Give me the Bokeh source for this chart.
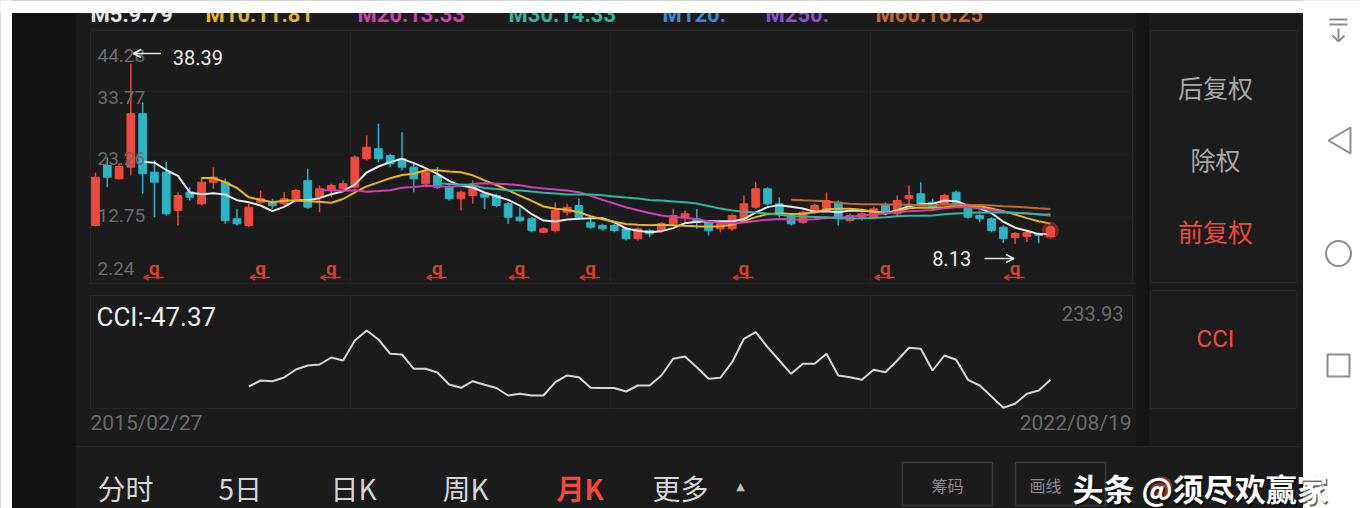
import numpy as np
import pandas as pd
from bokeh.plotting import figure
from bokeh.models import Range1d, Arrow, OpenHead, ColumnDataSource
from bokeh.core.properties import value
from bokeh.embed import file_html
from bokeh.resources import INLINE

# ---------------- data (monthly K, 前复权) ----------------
opens = [11.24, 21.31, 19.08, 21.03, 30.00, 20.19, 20.19, 13.75, 16.83, 14.88,
         18.51, 18.51, 12.36, 11.24, 15.15, 15.15, 14.88, 15.72, 18.79, 15.99,
         17.11, 17.40, 17.67, 22.44, 24.12, 23.00, 22.44, 21.03, 18.24, 19.63,
         17.67, 15.72, 16.27, 16.56, 16.27, 14.88, 12.63, 12.36, 10.11, 10.40,
         13.47, 14.59, 11.79, 11.24, 11.24, 10.68, 9.00, 10.40, 10.40, 11.52,
         12.63, 12.36, 11.79, 10.68, 10.68, 12.36, 14.31, 17.40, 14.88, 12.92,
         11.79, 13.47, 13.75, 15.15, 12.07, 12.63, 12.63, 14.59, 13.20, 15.72,
         16.56, 15.15, 14.88, 16.83, 14.31, 12.92, 12.36, 10.95, 9.22, 9.39,
         9.89, 9.39]
highs = [20.14, 22.71, 21.65, 38.39, 31.94, 22.15, 21.87, 16.83, 17.67, 19.35,
         21.03, 19.08, 14.04, 14.88, 17.11, 15.72, 16.83, 17.40, 20.76, 17.95,
         18.24, 18.79, 23.00, 26.35, 28.31, 23.28, 26.90, 21.60, 20.76, 21.03,
         18.24, 17.11, 18.79, 16.83, 16.56, 15.15, 14.31, 12.63, 10.95, 15.15,
         14.88, 15.72, 12.36, 11.52, 11.52, 10.95, 10.95, 10.68, 11.79, 14.04,
         13.75, 14.04, 12.07, 12.07, 13.20, 16.27, 18.51, 17.67, 15.99, 13.20,
         13.75, 14.88, 16.83, 15.43, 13.20, 13.75, 14.31, 15.15, 16.27, 17.95,
         18.51, 15.72, 16.56, 17.11, 14.88, 13.20, 12.63, 11.24, 10.11, 10.30,
         10.06, 10.60]
lows = [11.07, 17.67, 18.96, 19.63, 16.56, 12.63, 12.92, 11.24, 15.43, 14.59,
        17.40, 11.52, 11.24, 10.95, 14.88, 14.04, 14.59, 15.43, 14.04, 13.47,
        15.99, 16.83, 17.40, 22.15, 21.87, 21.03, 20.47, 16.83, 17.95, 17.40,
        15.43, 13.75, 14.88, 14.04, 14.31, 11.52, 11.79, 10.11, 10.01, 10.11,
        12.92, 12.36, 10.68, 10.40, 10.11, 8.72, 8.72, 9.27, 10.11, 11.24,
        11.79, 10.68, 9.56, 10.11, 10.40, 12.07, 14.04, 14.59, 12.63, 11.24,
        11.52, 13.20, 13.47, 11.24, 11.79, 12.07, 12.36, 12.92, 12.92, 14.88,
        14.59, 13.75, 14.59, 14.59, 12.36, 11.79, 10.11, 8.30, 8.13, 8.46,
        8.25, 9.20]
closes = [19.35, 19.35, 21.14, 30.00, 19.92, 18.51, 13.20, 16.27, 15.99, 18.51,
          19.35, 12.07, 11.52, 14.31, 15.72, 14.59, 15.72, 17.11, 14.31, 17.40,
          17.95, 18.24, 22.71, 24.38, 22.44, 21.60, 21.03, 19.08, 20.19, 17.67,
          15.72, 16.83, 17.67, 15.99, 14.59, 12.63, 12.07, 10.40, 10.68, 13.75,
          14.31, 12.63, 10.95, 10.68, 10.40, 9.00, 10.68, 9.84, 11.52, 12.92,
          13.20, 11.79, 10.40, 11.52, 12.92, 14.88, 17.40, 14.88, 13.20, 11.52,
          13.47, 14.59, 15.43, 12.36, 12.92, 13.20, 14.04, 13.47, 15.43, 16.27,
          14.88, 14.31, 16.27, 14.88, 12.63, 12.36, 10.40, 9.05, 9.89, 10.06,
          9.56, 10.40]
cci_first_index = 13
cci_values = [-85.6, -51.4, -55.4, -34.2, 11.4, 34.2, 39.9, 79.9, 62.7, 176.9,
              233.93, 182.6, 101.0, 97.0, 15.4, 15.4, -5.7, -74.2, -93.0, -55.4,
              -75.9, -94.2, -136.9, -127.3, -136.9, -136.9, -61.1, -22.8, -32.5, -93.0,
              -94.2, -94.2, -114.1, -79.9, -79.9, -22.8, 72.5, 85.6, 24.5, -41.7,
              -35.7, 53.1, 186.6, 224.2, 138.6, 62.7, -13.1, 43.9, 43.9, 101.0,
              -22.8, -32.5, -47.4, 9.7, -4.0, 62.7, 135.2, 129.5, 5.7, 91.3,
              66.8, -47.4, -79.9, -142.7, -207.1, -184.3, -127.3, -108.4, -47.37]
dividend_index = [5, 14, 20, 29, 36, 42, 55, 67, 78]
price_tick_labels = ["44.28", "33.77", "23.26", "12.75", "2.24"]
ma_periods = [5, 10, 20, 30, 60]
ma_colors = ["#e6e6e6", "#e8b422", "#cf3fb4", "#2cb7a0", "#c2692c"]
title_labels = ["M5:9.79", "M10:11.81", "M20:13.33", "M30:14.33", "M120:", "M250:", "M60:16.25"]
title_colors = ["#e6e6e6", "#e8b422", "#cf3fb4", "#2cb7a0", "#3f86d8", "#8a4fcf", "#c2692c"]
date_first = "2015/02/27"
date_last = "2022/08/19"
side_labels = ["后复权", "除权", "前复权"]
indicator_label = "CCI"
tab_labels = ["分时", "5日", "日K", "周K", "月K", "更多"]
button_labels = ["筹码", "画线"]
watermark = "头条 @须尽欢赢家"

# ---------------- layout constants (screen pixels of the page) ----------------
FIG_W, FIG_H = 1360, 508
LEFT, TOP = 0, 0
RIGHT, BOTTOM = LEFT + FIG_W, TOP + FIG_H
CANDLE_X0, CANDLE_STEP = 95.0, 11.79
HIGH_Y, LOW_Y = 63.3, 243.5          # screen y of highest high / lowest low
CCI_MAX_Y, CCI_LAST_Y = 330.0, 379.3  # screen y of max CCI / last CCI

RED = "#f0483c"
CYAN = "#2ab4c4"
GREY = "#6a6a6a"
CJK = value("Noto Sans CJK SC")
NUM = value("Roboto")

n = len(closes)
idx = np.arange(n)

def linear_range(ya, va, yb, vb):
    slope = (vb - va) / (yb - ya)
    f = lambda y: va + (y - ya) * slope
    return Range1d(start=f(BOTTOM), end=f(TOP))

hi_i = int(np.argmax(highs))
lo_i = int(np.argmin(lows))

p = figure(width=FIG_W, height=FIG_H, output_backend="svg", toolbar_location=None,
           x_range=Range1d(LEFT, RIGHT), y_range=Range1d(BOTTOM, TOP),
           x_axis_type=None, y_axis_type=None, min_border=0, title=None,
           background_fill_color="#1b1b1b", border_fill_color="#1b1b1b",
           outline_line_color=None)
p.grid.visible = False
p.extra_x_ranges = {"idx": Range1d(start=(LEFT - CANDLE_X0) / CANDLE_STEP,
                                   end=(RIGHT - CANDLE_X0) / CANDLE_STEP)}
p.extra_y_ranges = {"price": linear_range(HIGH_Y, max(highs), LOW_Y, min(lows)),
                    "cci": linear_range(CCI_MAX_Y, max(cci_values), CCI_LAST_Y, cci_values[-1])}

# ---------------- backgrounds / frames ----------------
p.quad(left=[11], right=[75], top=[12], bottom=[BOTTOM], color="#131313")
p.quad(left=[1136], right=[1148], top=[12], bottom=[446], color="#151515")
p.quad(left=[1150, 1150], right=[1296, 1296], top=[30, 290], bottom=[282, 408],
       fill_color="#1c1c1c", line_color="#292929", line_width=1)
p.quad(left=[90, 90], right=[1132, 1132], top=[30, 295], bottom=[283, 408],
       fill_color=None, line_color="#262626", line_width=1)
p.segment(x0=[350, 610, 870, 350, 610, 870], x1=[350, 610, 870, 350, 610, 870],
          y0=[30, 30, 30, 295, 295, 295], y1=[283, 283, 283, 408, 408, 408],
          line_color="#232323", line_width=1)
tick_vals = [float(t) for t in price_tick_labels]
p.segment(x0=[90] * len(tick_vals), x1=[1132] * len(tick_vals), y0=tick_vals, y1=tick_vals,
          y_range_name="price", line_color="#222222", line_width=1)
p.segment(x0=[75], x1=[1302], y0=[446], y1=[446], line_color="#272727", line_width=1)

# ---------------- candles ----------------
o = np.array(opens); c = np.array(closes)
up = c >= o
src = ColumnDataSource(dict(
    i=idx, high=highs, low=lows,
    top=np.maximum(o, c), bot=np.minimum(o, c),
    color=[RED if u else CYAN for u in up]))
p.segment(x0="i", y0="low", x1="i", y1="high", line_color="color", line_width=1.5,
          source=src, x_range_name="idx", y_range_name="price")
p.vbar(x="i", width=0.66, top="top", bottom="bot", fill_color="color", line_color="color",
       line_width=1, source=src, x_range_name="idx", y_range_name="price")

# moving averages
cs = pd.Series(closes)
for period, col in zip(ma_periods, ma_colors):
    ma = cs.rolling(period).mean().values
    p.line(idx, ma, line_color=col, line_width=2, x_range_name="idx", y_range_name="price")

# last price glow
p.scatter([n - 1], [closes[-1]], size=16, color=RED, alpha=0.35,
          x_range_name="idx", y_range_name="price")
p.scatter([n - 1], [closes[-1]], size=9, color=RED,
          x_range_name="idx", y_range_name="price")

# CCI
cci_x = np.arange(cci_first_index, cci_first_index + len(cci_values))
p.line(cci_x, cci_values, line_color="#d6d6d6", line_width=2,
       x_range_name="idx", y_range_name="cci")

# dividend markers
p.text(x=dividend_index, y=[268] * len(dividend_index), text=["q"] * len(dividend_index),
       x_range_name="idx", text_align="center", text_baseline="alphabetic",
       text_color="#d8402f", text_font=NUM, text_font_size=value("19px"),
       text_font_style="bold")
for d in dividend_index:
    p.add_layout(Arrow(x_start=d + 0.8, y_start=277, x_end=d - 0.9, y_end=277,
                       x_range_name="idx", line_color="#c93a2c", line_width=1.5,
                       end=OpenHead(size=5, line_color="#c93a2c", line_width=1.5)))

# price axis labels
p.text(x=[97] * 5, y=[55, 97, 158, 215, 268], text=price_tick_labels,
       text_align="left", text_baseline="middle", text_color=GREY,
       text_font=NUM, text_font_size=value("19px"))

# high / low annotations
p.add_layout(Arrow(x_start=hi_i + 2.55, y_start=53, x_end=hi_i + 0.2, y_end=53,
                   x_range_name="idx", line_color="#e6e6e6", line_width=1.5,
                   end=OpenHead(size=8, line_color="#e6e6e6", line_width=1.5)))
p.text(x=[hi_i], y=[57], text=[f"{max(highs):.2f}"], x_range_name="idx", x_offset=42,
       text_align="left", text_baseline="middle", text_color="#eeeeee",
       text_font=NUM, text_font_size=value("20px"))
p.add_layout(Arrow(x_start=lo_i - 2.6, y_start=258, x_end=lo_i - 0.1, y_end=258,
                   x_range_name="idx", line_color="#e6e6e6", line_width=1.5,
                   end=OpenHead(size=8, line_color="#e6e6e6", line_width=1.5)))
p.text(x=[lo_i], y=[258], text=[f"{min(lows):.2f}"], x_range_name="idx", x_offset=-44,
       text_align="right", text_baseline="middle", text_color="#eeeeee",
       text_font=NUM, text_font_size=value("20px"))

# CCI texts
p.text(x=[96], y=[316], text=[f"{indicator_label}:{cci_values[-1]:.2f}"],
       text_align="left", text_baseline="middle", text_color="#eeeeee",
       text_font=NUM, text_font_size=value("26px"))
p.text(x=[1123], y=[313], text=[f"{max(cci_values):.2f}"],
       text_align="right", text_baseline="middle", text_color=GREY,
       text_font=NUM, text_font_size=value("20px"))
p.text(x=[90, 1131], y=[422, 422], text=[date_first, date_last],
       text_align=["left", "right"], text_baseline="middle", text_color=GREY,
       text_font=NUM, text_font_size=value("21px"))

# MA title row (its upper half is cut off by the screenshot edge)
title_x = [90, 205, 357, 508, 662, 765, 875]
p.text(x=title_x, y=[14] * len(title_labels), text=title_labels, text_color=title_colors,
       text_align="left", text_baseline="alphabetic", text_font=NUM,
       text_font_size=value("22px"), text_font_style="bold")

# side panel
p.text(x=[1215, 1215, 1215], y=[86, 158, 230], text=side_labels,
       text_color=["#a8a8a8", "#a8a8a8", RED], text_align="center", text_baseline="middle",
       text_font=CJK, text_font_size=value("25px"))
p.text(x=[1215], y=[338], text=[indicator_label], text_color=RED, text_align="center",
       text_baseline="middle", text_font=NUM, text_font_size=value("24px"))

# bottom tabs
tab_x = [97, 218, 330, 442, 556, 652]
p.text(x=tab_x, y=[487] * len(tab_labels), text=tab_labels,
       text_color=["#d6d6d6"] * 4 + [RED, "#d6d6d6"], text_align="left",
       text_baseline="middle", text_font=CJK, text_font_size=value("28px"),
       text_font_style=["normal"] * 4 + ["bold", "normal"])
p.text(x=[740], y=[486], text=["▲"], text_color="#bdbdbd", text_align="center",
       text_baseline="middle", text_font=value("DejaVu Sans"), text_font_size=value("11px"))
p.quad(left=[902, 1015], right=[992, 1105], top=[462, 462], bottom=[505, 505],
       fill_color=None, line_color="#3a3a3a", line_width=1.5)
p.text(x=[947, 1045], y=[484, 484], text=button_labels, text_color="#8a8a8a",
       text_align="center", text_baseline="middle", text_font=CJK,
       text_font_size=value("16px"))

# white screenshot borders and navigation bar
p.quad(left=[LEFT, LEFT, 1303], right=[11, RIGHT, RIGHT], top=[TOP, TOP, TOP],
       bottom=[BOTTOM, 12, BOTTOM], color="#ffffff")
NAV = "#8c8c8c"
p.segment(x0=[1329, 1329, 1338, 1332, 1338], x1=[1347, 1347, 1338, 1338, 1344],
          y0=[19, 24, 28, 35, 41], y1=[19, 24, 41, 41, 35], line_color=NAV, line_width=2)
p.patch(x=[1328, 1350, 1350], y=[140, 127, 153], fill_color=None, line_color=NAV, line_width=2)
p.scatter([1338], [253], marker="circle", size=25, fill_color=None, line_color=NAV, line_width=2)
p.scatter([1338], [365], marker="square", size=22, fill_color=None, line_color=NAV, line_width=2)

# watermark
p.scatter([1161], [487], marker="circle", size=21, color="#b03a30", alpha=0.8)
p.text(x=[1073.5], y=[488.5], text=[watermark], text_color="#000000", text_alpha=0.6,
       text_align="left", text_baseline="middle", text_font=CJK,
       text_font_size=value("31px"), text_font_style="bold")
p.text(x=[1072], y=[487], text=[watermark], text_color="#ffffff",
       text_align="left", text_baseline="middle", text_font=CJK,
       text_font_size=value("31px"), text_font_style="bold")

open("out.html", "w").write(file_html(p, INLINE))
